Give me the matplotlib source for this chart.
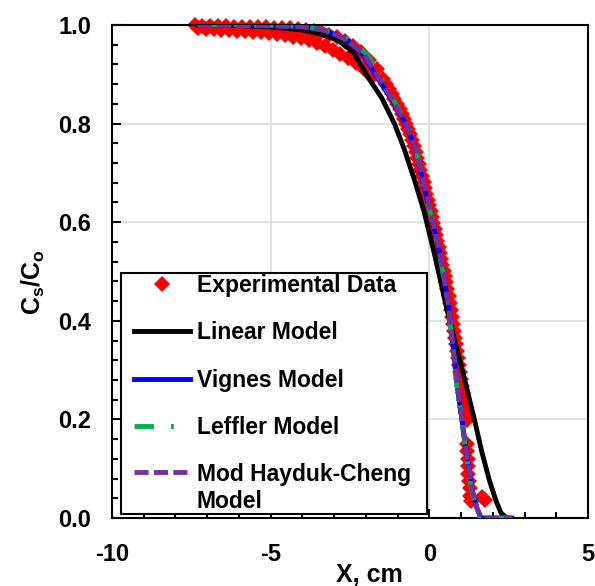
import matplotlib.pyplot as plt
from matplotlib.ticker import MultipleLocator, FormatStrFormatter
from matplotlib.legend_handler import HandlerLine2D
from matplotlib.lines import Line2D

plt.rcParams['font.family'] = ['Liberation Sans', 'DejaVu Sans']
plt.rcParams['font.weight'] = 'bold'
plt.rcParams['axes.unicode_minus'] = False
plt.rcParams['mathtext.fontset'] = 'custom'
plt.rcParams['mathtext.bf'] = 'Liberation Sans:bold'
plt.rcParams['mathtext.rm'] = 'Liberation Sans:bold'

# Experimental data (red diamonds) - upper row, lower row, steep part
exp_x_upper = [-7.4, -7.15, -6.9, -6.65, -6.4, -6.15, -5.9, -5.65, -5.4, -5.15,
               -4.9, -4.65, -4.4, -4.15, -3.9, -3.65, -3.4, -3.15, -2.9, -2.65,
               -2.4, -2.15, -1.9, -1.65]
exp_y_upper = [1.0, 0.998, 0.997, 0.997, 0.997, 0.996, 0.996, 0.996, 0.995, 0.995,
               0.994, 0.994, 0.993, 0.992, 0.99, 0.988, 0.985, 0.98, 0.975, 0.968,
               0.958, 0.946, 0.93, 0.91]
exp_x_lower = [-7.3, -7.05, -6.8, -6.55, -6.3, -6.05, -5.8, -5.55, -5.3, -5.05,
               -4.8, -4.55, -4.3, -4.05, -3.8, -3.55, -3.3, -3.05, -2.8, -2.55,
               -2.3, -2.05, -1.8]
exp_y_lower = [0.993, 0.992, 0.991, 0.99, 0.989, 0.988, 0.987, 0.986, 0.985, 0.983,
               0.981, 0.979, 0.976, 0.973, 0.969, 0.964, 0.958, 0.95, 0.942, 0.933,
               0.922, 0.91, 0.895]
exp_x_steep = [-1.45, -1.36, -1.27, -1.18, -1.1, -1.02, -0.94, -0.87, -0.8, -0.73,
               -0.66, -0.6, -0.54, -0.48, -0.43, -0.38, -0.33, -0.28, -0.23, -0.18,
               -0.13, -0.09, -0.04, 0.0, 0.05, 0.09, 0.13, 0.17, 0.21, 0.25,
               0.29, 0.33, 0.37, 0.41, 0.45, 0.49, 0.53, 0.57, 0.61, 0.65,
               0.69, 0.73, 0.76, 0.79, 0.82, 0.85, 0.88, 0.91, 0.94, 0.97,
               1.0, 1.03, 1.06, 1.09, 1.12, 1.15, 1.18,
               1.2, 1.2, 1.21, 1.22, 1.23, 1.25, 1.27, 1.29, 1.32, 1.65, 1.74]
exp_y_steep = [0.89, 0.88, 0.87, 0.86, 0.85, 0.84, 0.83, 0.82, 0.81, 0.80,
               0.79, 0.778, 0.766, 0.754, 0.742, 0.73, 0.718, 0.706, 0.694, 0.682,
               0.67, 0.658, 0.646, 0.634, 0.622, 0.61, 0.598, 0.586, 0.574, 0.562,
               0.55, 0.538, 0.526, 0.514, 0.502, 0.49, 0.478, 0.464, 0.45, 0.436,
               0.422, 0.408, 0.394, 0.38, 0.366, 0.352, 0.338, 0.324, 0.31, 0.296,
               0.282, 0.268, 0.254, 0.24, 0.226, 0.212, 0.198,
               0.15, 0.135, 0.12, 0.105, 0.09, 0.075, 0.06, 0.045, 0.035, 0.042, 0.036]

# Linear model
lin_x = [-7.3, -6.0, -5.0, -4.0, -3.5, -2.9, -2.4, -1.94, -1.5, -1.1, -0.8, -0.47,
         -0.16, 0.2, 0.53, 0.8, 1.04, 1.42, 1.65, 1.89, 2.1, 2.26, 2.45]
lin_y = [1.0, 0.999, 0.996, 0.99, 0.983, 0.97, 0.945, 0.895, 0.852, 0.80, 0.75, 0.686,
         0.62, 0.525, 0.43, 0.36, 0.30, 0.2, 0.135, 0.077, 0.035, 0.01, 0.0]
# Vignes model
vig_x = [-7.3, -6.0, -5.0, -4.0, -3.3, -2.6, -2.1, -1.66, -1.2, -0.75, -0.45,
         -0.22, 0.03, 0.29, 0.63, 0.88, 1.1, 1.35, 1.5, 1.63, 2.6]
vig_y = [1.0, 1.0, 0.999, 0.997, 0.99, 0.97, 0.94, 0.895, 0.85, 0.80, 0.75,
         0.686, 0.62, 0.55, 0.42, 0.266, 0.165, 0.057, 0.02, 0.0, 0.0]
# Leffler model
lef_x = [-7.3, -6.0, -5.0, -4.0, -3.3, -2.6, -1.95, -1.55, -1.15, -0.72, -0.43,
         -0.22, 0.03, 0.29, 0.6, 0.85, 1.08, 1.32, 1.5, 1.6, 2.6]
lef_y = [1.0, 1.0, 0.999, 0.997, 0.99, 0.972, 0.94, 0.895, 0.85, 0.80, 0.75,
         0.686, 0.62, 0.55, 0.43, 0.28, 0.17, 0.06, 0.015, 0.0, 0.0]
# Mod Hayduk-Cheng model
hay_x = [-7.3, -6.0, -5.0, -4.0, -3.3, -2.6, -2.05, -1.62, -1.18, -0.74, -0.44,
         -0.2, 0.05, 0.3, 0.63, 0.88, 1.1, 1.34, 1.5, 1.62, 2.6]
hay_y = [1.0, 0.999, 0.998, 0.996, 0.989, 0.97, 0.94, 0.895, 0.85, 0.80, 0.75,
         0.686, 0.62, 0.55, 0.42, 0.27, 0.165, 0.06, 0.02, 0.0, 0.0]

fig = plt.figure(figsize=(5.95, 5.86), dpi=100)
ax = fig.add_axes([112/595, 1-518/586, 476/595, 493/586])

exp_x = exp_x_upper + exp_x_lower + exp_x_steep
exp_y = exp_y_upper + exp_y_lower + exp_y_steep
ax.plot(exp_x, exp_y, 'D', color='#FF0000', markersize=8.5, markeredgewidth=0,
        linestyle='none', label='Experimental Data', clip_on=False, zorder=2)
ax.plot(lin_x, lin_y, '-', color='black', linewidth=3.5, label='Linear Model', zorder=3)
ax.plot(vig_x, vig_y, '-', color='#0000FF', linewidth=3.5, label='Vignes Model', zorder=4)
ax.plot(lef_x, lef_y, color='#00B050', linewidth=3.5, dashes=(4, 3.5, 0.6, 3.5),
        label='Leffler Model', zorder=5)
ax.plot(hay_x, hay_y, color='#7030A0', linewidth=3.5, dashes=(2.9, 1.1),
        label='Mod Hayduk-Cheng\nModel', zorder=6)

ax.set_xlim(-10, 5)
ax.set_ylim(0, 1)
ax.xaxis.set_major_locator(MultipleLocator(5))
ax.xaxis.set_minor_locator(MultipleLocator(1))
ax.yaxis.set_major_locator(MultipleLocator(0.2))
ax.yaxis.set_minor_locator(MultipleLocator(0.04))
ax.yaxis.set_major_formatter(FormatStrFormatter('%.1f'))
ax.grid(True, which='major', color='#D9D9D9', linewidth=1.1)
ax.set_axisbelow(True)
ax.tick_params(which='both', direction='in', top=False, right=False, width=1.5,
               labelsize=17)
ax.tick_params(which='major', length=6.5)
ax.tick_params(which='minor', length=4.5)
ax.tick_params(axis='x', pad=18)
ax.tick_params(axis='y', pad=15)
for s in ax.spines.values():
    s.set_linewidth(1.5)
    s.set_color('black')

leg = ax.legend(loc='lower left', bbox_to_anchor=(9/476, 4/493, 306/476, 0.5),
                mode='expand', borderaxespad=0, fontsize=16.5, frameon=True,
                fancybox=False, framealpha=1, edgecolor='black', numpoints=1,
                handlelength=2.95, handletextpad=0.3, labelspacing=1.06,
                borderpad=0.05, handler_map={Line2D: HandlerLine2D(xpad=0.5)})
leg.get_frame().set_linewidth(1.5)
# put the last handle level with the first line of its two-line label
last = leg.legend_handles[-1]
last.set_ydata([v + 12.5 for v in last.get_ydata()])

fig.text(369/595, 4/586, 'X, cm', ha='center', va='baseline', fontsize=18,
         fontweight='bold')
fig.text(41/595, 1-282/586, r'$\mathbf{C_s/C_o}$', rotation=90, rotation_mode='anchor',
         ha='center', va='baseline', fontsize=18)

fig.savefig('out.png', dpi=100)
